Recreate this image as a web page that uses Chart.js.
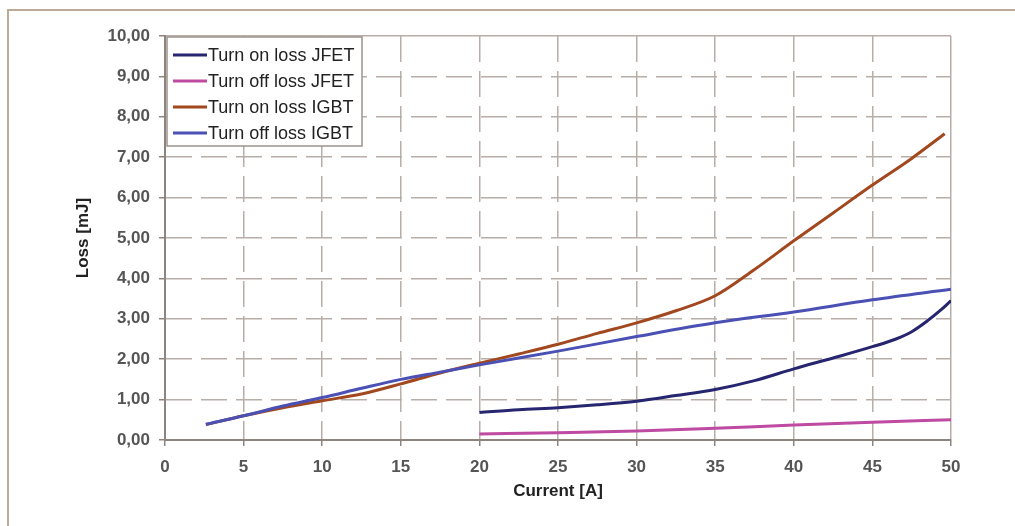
<!DOCTYPE html>
<html>
<head>
<meta charset="utf-8">
<script src="https://cdn.jsdelivr.net/npm/chart.js@4/dist/chart.umd.min.js"></script>
<style>
  html, body { margin: 0; padding: 0; background: #fff; }
  #frame { position: absolute; left: 7px; top: 9px; width: 1100px; height: 600px;
           border-top: 2px solid #bcaa96; border-left: 2px solid #bcaa96; }
  #wrap { position: absolute; left: 0; top: 0; width: 1015px; height: 526px; }
</style>
</head>
<body>
<div id="frame"></div>
<div id="wrap"><canvas id="loss-chart"></canvas></div>
<script>
// current [A] / loss [mJ]
var seriesNames = ['Turn on loss JFET', 'Turn off loss JFET', 'Turn on loss IGBT', 'Turn off loss IGBT'];

var jfetCurrent = [20, 22.5, 25, 27.5, 30, 32.5, 35, 37.5, 40, 42.5, 45, 46.5, 47.5, 48.5, 49.3, 50];
var jfetOnLoss  = [0.68, 0.75, 0.80, 0.87, 0.96, 1.10, 1.25, 1.47, 1.76, 2.03, 2.31, 2.50, 2.68, 2.95, 3.20, 3.45];
var jfetOffCurrent = [20, 25, 30, 35, 40, 45, 50];
var jfetOffLoss    = [0.15, 0.18, 0.22, 0.29, 0.37, 0.44, 0.50];

var igbtOnCurrent = [2.6, 5, 7.5, 10, 12.5, 15, 17.5, 20, 22.5, 25, 27.5, 30, 32.5, 35, 37.5, 40, 42.5, 45, 47.5, 49.6];
var igbtOnLoss    = [0.38, 0.60, 0.80, 0.97, 1.14, 1.39, 1.66, 1.90, 2.13, 2.37, 2.64, 2.90, 3.20, 3.57, 4.22, 4.93, 5.62, 6.31, 6.97, 7.58];
var igbtOffCurrent = [2.6, 5, 7.5, 10, 12.5, 15, 17.5, 20, 25, 30, 35, 40, 45, 50];
var igbtOffLoss    = [0.39, 0.60, 0.84, 1.05, 1.28, 1.50, 1.68, 1.86, 2.20, 2.56, 2.90, 3.17, 3.47, 3.73];

var xTicks = [0, 5, 10, 15, 20, 25, 30, 35, 40, 45, 50];
var yMin = 0, yMax = 10;

var colors = ['#262570', '#bf4aa2', '#a2481f', '#4a50b4'];

function points(xs, ys) {
    return xs.map(function (x, i) { return { x: x, y: ys[i] }; });
}

var gridColor = '#b8aea8';
var axisColor = '#8e847e';
var fontFamily = 'Liberation Sans, Arial, sans-serif';
var tickFont = { family: fontFamily, size: 17, weight: 'bold' };
var titleFont = { family: fontFamily, size: 17, weight: 'bold' };

// dashed grid inside, solid box edges
function gridDash(ctx) {
    if (ctx.tick && (ctx.tick.value === ctx.scale.min || ctx.tick.value === ctx.scale.max)) return [];
    return [26, 9];
}

// legend box in the top-left corner of the plot
var boxLegend = {
    id: 'boxLegend',
    afterDraw: function (chart) {
        var c = chart.ctx, area = chart.chartArea;
        var left = area.left + 2, top = area.top + 1;
        c.save();
        c.fillStyle = '#fff';
        c.strokeStyle = '#9c928c';
        c.lineWidth = 1.5;
        c.fillRect(left, top, 195, 109);
        c.strokeRect(left, top, 195, 109);
        c.font = '18px ' + fontFamily;
        c.textBaseline = 'middle';
        chart.data.datasets.forEach(function (ds, i) {
            var y = top + 18 + i * 26;
            c.strokeStyle = ds.borderColor;
            c.lineWidth = 3;
            c.beginPath();
            c.moveTo(left + 6, y);
            c.lineTo(left + 40, y);
            c.stroke();
            c.fillStyle = '#222';
            c.fillText(ds.label, left + 41, y + 1);
        });
        c.restore();
    }
};

new Chart(document.getElementById('loss-chart'), {
    type: 'line',
    data: {
        datasets: [{
            label: seriesNames[0],
            data: points(jfetCurrent, jfetOnLoss),
            borderColor: colors[0],
            order: 1
        }, {
            label: seriesNames[1],
            data: points(jfetOffCurrent, jfetOffLoss),
            borderColor: colors[1],
            order: 2
        }, {
            label: seriesNames[2],
            data: points(igbtOnCurrent, igbtOnLoss),
            borderColor: colors[2],
            order: 4
        }, {
            label: seriesNames[3],
            data: points(igbtOffCurrent, igbtOffLoss),
            borderColor: colors[3],
            order: 3
        }]
    },
    options: {
        responsive: true,
        maintainAspectRatio: false,
        animation: false,
        layout: { padding: { left: 73, right: 64, top: 36, bottom: 24 } },
        elements: {
            point: { radius: 0 },
            line: { borderWidth: 3, tension: 0.3, fill: false, cubicInterpolationMode: 'monotone' }
        },
        plugins: {
            legend: { display: false },
            tooltip: { enabled: false }
        },
        scales: {
            x: {
                type: 'linear',
                min: xTicks[0],
                max: xTicks[xTicks.length - 1],
                afterBuildTicks: function (scale) {
                    scale.ticks = xTicks.map(function (v) { return { value: v }; });
                },
                afterFit: function (scale) { scale.height = 62; },
                grid: { color: gridColor, lineWidth: 1.5, tickLength: 6, tickColor: axisColor },
                border: { display: true, color: axisColor, width: 2, dash: gridDash },
                ticks: { color: '#555', font: tickFont, padding: 11, maxRotation: 0 },
                title: { display: true, text: 'Current [A]', color: '#222', font: titleFont, padding: 0 }
            },
            y: {
                min: yMin,
                max: yMax,
                afterFit: function (scale) { scale.width = 92; },
                grid: { color: gridColor, lineWidth: 1.5, tickLength: 6, tickColor: axisColor },
                border: { display: true, color: axisColor, width: 2, dash: gridDash },
                ticks: {
                    stepSize: 1,
                    color: '#555',
                    font: tickFont,
                    padding: 9,
                    callback: function (v) { return v.toFixed(2).replace('.', ','); }
                },
                title: { display: true, text: 'Loss [mJ]', color: '#222', font: titleFont, padding: 0 }
            }
        }
    },
    plugins: [boxLegend]
});
</script>
</body>
</html>
